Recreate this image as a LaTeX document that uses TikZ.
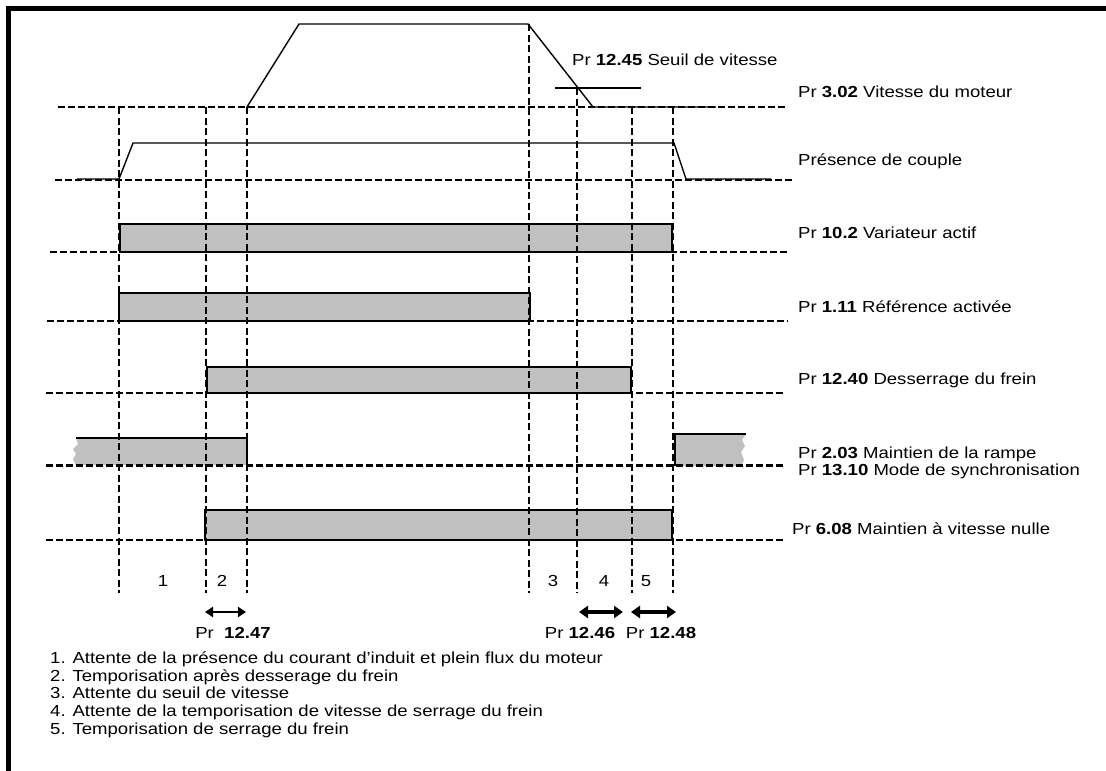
\documentclass[tikz,border=0pt]{standalone}
\usepackage{fontspec}
\setmainfont{Liberation Sans}
\usetikzlibrary{arrows.meta}
\definecolor{bargray}{RGB}{192,192,192}
\newcommand{\wide}[1]{\scalebox{1.16}[1]{#1}}
\tikzset{
  dline/.style={line width=2.1pt, dash pattern=on 7pt off 3pt},
  vline/.style={line width=2.1pt, dash pattern=on 7pt off 3.5pt},
  sig/.style={line width=1.4pt},
  barbox/.style={fill=bargray, draw=black, line width=1.6pt},
  barfill/.style={fill=bargray, draw=none},
  lab/.style={anchor=base west, inner sep=0pt, font=\fontsize{16}{19}\selectfont},
  midlab/.style={anchor=base, inner sep=0pt, font=\fontsize{16}{19}\selectfont},
  leg/.style={anchor=base west, inner sep=0pt, font=\fontsize{16}{19}\selectfont},
  thinarrow/.style={line width=2pt, {Triangle[length=8pt,width=10pt]}-{Triangle[length=8pt,width=10pt]}},
  thickarrow/.style={line width=3.2pt, {Triangle[length=9pt,width=12pt]}-{Triangle[length=9pt,width=12pt]}}
}
\begin{document}
\begin{tikzpicture}[x=1pt,y=-1pt]
\useasboundingbox (0,0) rectangle (1106,771);
% frame
\fill[black] (6,6) rectangle (1106,10.5);
\fill[black] (6,6) rectangle (10.5,771);

% bars
\path[barbox] (120,224) rectangle (672,252);
\path[barbox] (119,293) rectangle (530,321);
\path[barbox] (207,367) rectangle (631,393);
\path[barbox] (205,510) rectangle (672,540);
% ramp hold bars with torn ends
\path[barfill] (76,438) -- (78,444) -- (73,449) -- (76,454) -- (73,459) -- (76,465)
  -- (247,465) -- (247,438) -- cycle;
\draw[line width=1.6pt] (76,438) -- (247,438) -- (247,465);
\path[barfill] (675,434) -- (746,434) -- (742,440) -- (745,446) -- (741,452)
  -- (744,460) -- (741,466) -- (675,466) -- cycle;
\draw[line width=1.6pt] (746,434) -- (675,434) -- (675,466);

% horizontal dashed baselines
\draw[dline] (58,107) -- (786,107);
\draw[dline] (55,180) -- (794,180);
\draw[dline] (50,252) -- (789,252);
\draw[dline] (47,321) -- (788,321);
\draw[dline] (46,393) -- (786,393);
\draw[dline] (46,465.5) -- (786,465.5);
\draw[dline] (46,540) -- (786,540);

% vertical dashed time markers
\draw[vline] (119,107) -- (119,593);
\draw[vline] (206,107) -- (206,593);
\draw[vline] (247,107) -- (247,593);
\draw[vline] (529,24) -- (529,593);
\draw[vline] (577,88) -- (577,593);
\draw[vline] (632,107) -- (632,593);
\draw[vline] (673,107) -- (673,593);

% signals
\draw[sig] (247,107) -- (299,24) -- (528,24) -- (593,107) -- (716,107);
\draw[sig] (555,88) -- (641,88);
\draw[sig] (77,179) -- (119,179) -- (133,143) -- (674,143) -- (686,179) -- (771,179);

% labels
\node[lab] (l1245) at (572,65) {\wide{Pr \textbf{12.45} Seuil de vitesse}};
\node[lab] (l302) at (798,97.5) {\wide{Pr \textbf{3.02} Vitesse du moteur}};
\node[lab] (lcouple) at (798,165.5) {\wide{Présence de couple}};
\node[lab] (l102) at (798,238.5) {\wide{Pr \textbf{10.2} Variateur actif}};
\node[lab] (l111) at (798,312.5) {\wide{Pr \textbf{1.11} Référence activée}};
\node[lab] (l1240) at (798,384.5) {\wide{Pr \textbf{12.40} Desserrage du frein}};
\node[lab] (l203) at (798,458.5) {\wide{Pr \textbf{2.03} Maintien de la rampe}};
\node[lab] (l1310) at (798,475.5) {\wide{Pr \textbf{13.10} Mode de synchronisation}};
\node[lab] (l608) at (792,534.5) {\wide{Pr \textbf{6.08} Maintien à vitesse nulle}};

% phase numbers
\node[midlab] (n1) at (163,586) {\wide{1}};
\node[midlab] (n2) at (222,586) {\wide{2}};
\node[midlab] (n3) at (553,586) {\wide{3}};
\node[midlab] (n4) at (604,586) {\wide{4}};
\node[midlab] (n5) at (646,586) {\wide{5}};

% timing arrows
\coordinate (a1l) at (205,612); \coordinate (a1r) at (246,612);
\coordinate (a2l) at (579,612); \coordinate (a2r) at (623,612);
\coordinate (a3l) at (631,612); \coordinate (a3r) at (676,612);
\draw[thinarrow] (a1l) -- (a1r);
\draw[thickarrow] (a2l) -- (a2r);
\draw[thickarrow] (a3l) -- (a3r);
\node[midlab] (p1247) at (233,638) {\wide{Pr \ \textbf{12.47}}};
\node[midlab] (p1246) at (580,638) {\wide{Pr \textbf{12.46}}};
\node[midlab] (p1248) at (661,638) {\wide{Pr \textbf{12.48}}};

% legend
\node[leg] (g1) at (50,663) {\wide{1. Attente de la présence du courant d'induit et plein flux du moteur}};
\node[leg] (g2) at (50,681) {\wide{2. Temporisation après desserage du frein}};
\node[leg] (g3) at (50,698) {\wide{3. Attente du seuil de vitesse}};
\node[leg] (g4) at (50,716) {\wide{4. Attente de la temporisation de vitesse de serrage du frein}};
\node[leg] (g5) at (50,734) {\wide{5. Temporisation de serrage du frein}};
\end{tikzpicture}
\end{document}
